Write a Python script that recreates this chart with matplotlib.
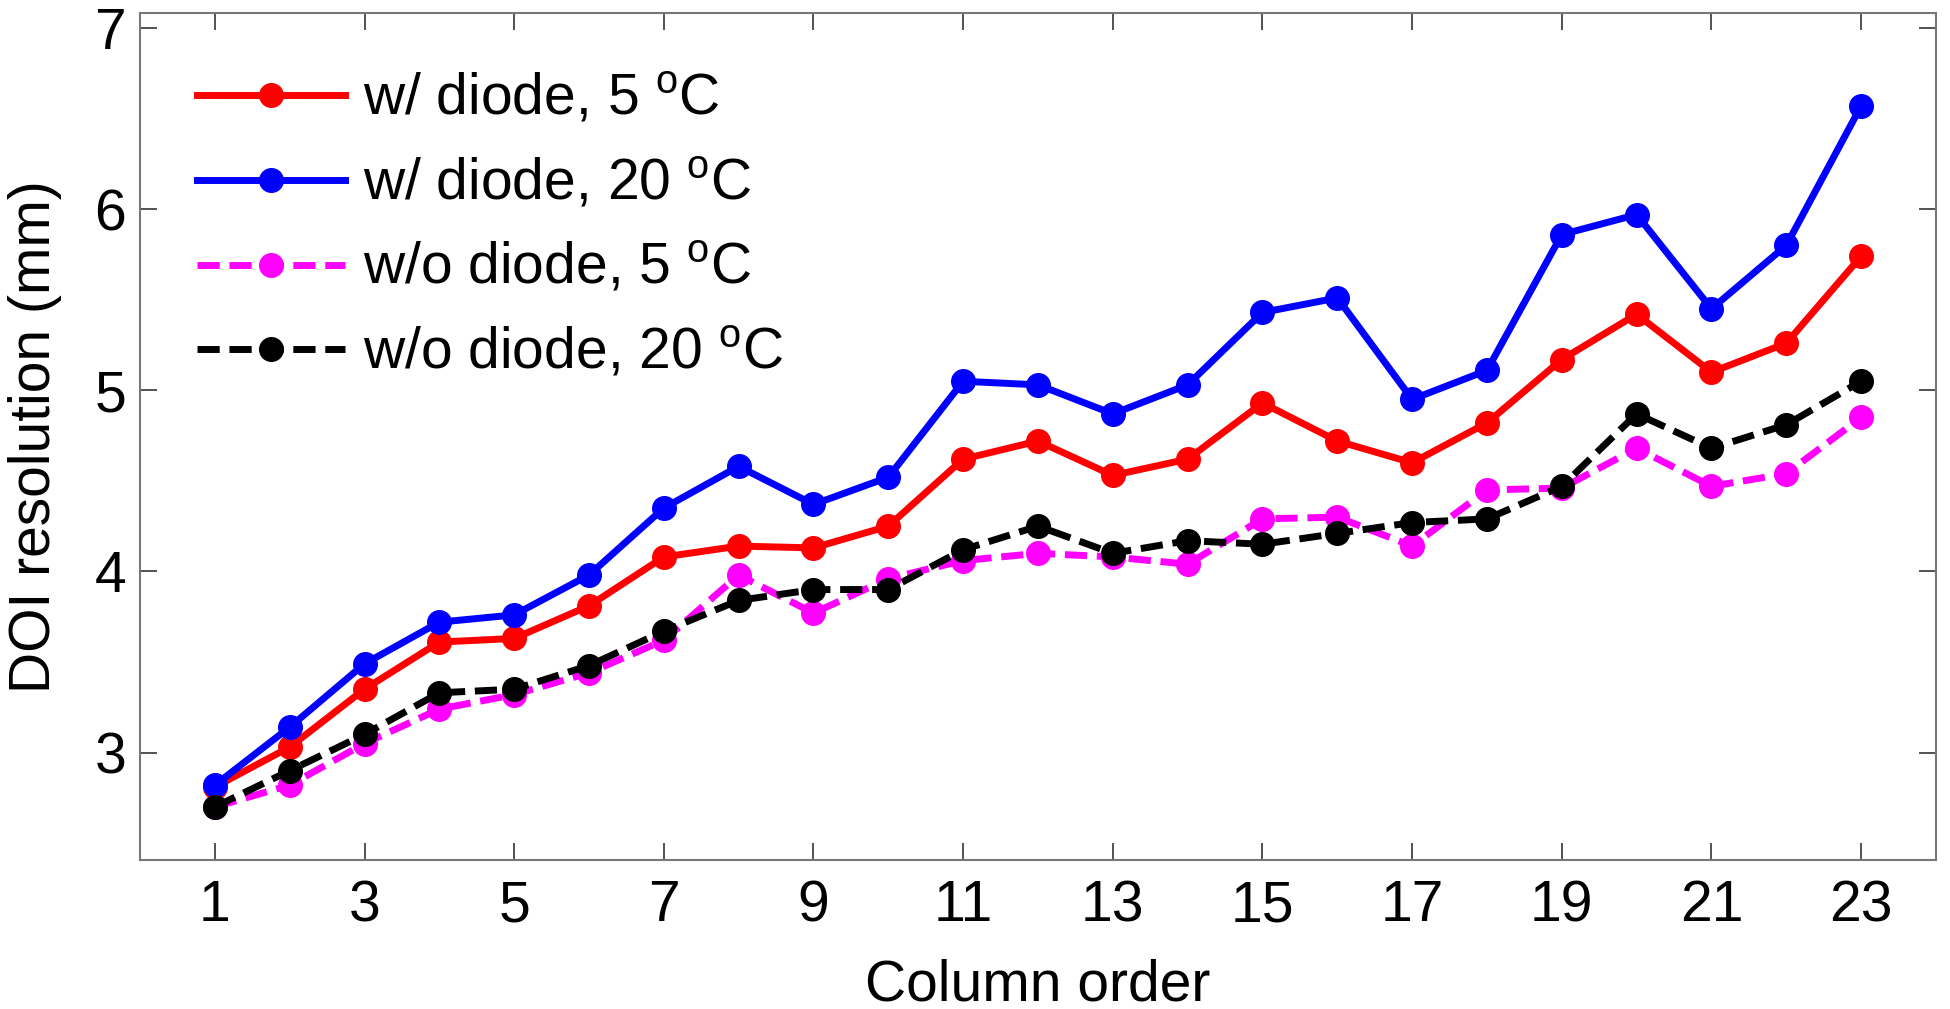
import matplotlib
matplotlib.use("Agg")
import matplotlib.pyplot as plt

plt.rcParams['font.family'] = ['Liberation Sans', 'DejaVu Sans']

columns = list(range(1, 24))
w_diode_5C = [2.81, 3.03, 3.35, 3.61, 3.63, 3.81, 4.08, 4.14, 4.13, 4.25, 4.62, 4.72,
              4.53, 4.62, 4.93, 4.72, 4.60, 4.82, 5.17, 5.42, 5.10, 5.26, 5.74]
w_diode_20C = [2.82, 3.14, 3.49, 3.72, 3.76, 3.98, 4.35, 4.58, 4.37, 4.52, 5.05, 5.03,
               4.87, 5.03, 5.43, 5.51, 4.95, 5.11, 5.86, 5.97, 5.45, 5.80, 6.57]
wo_diode_5C = [2.70, 2.82, 3.05, 3.24, 3.32, 3.44, 3.62, 3.98, 3.77, 3.96, 4.06, 4.10,
               4.08, 4.04, 4.29, 4.30, 4.14, 4.45, 4.46, 4.68, 4.47, 4.54, 4.85]
wo_diode_20C = [2.70, 2.90, 3.10, 3.33, 3.35, 3.48, 3.67, 3.84, 3.90, 3.90, 4.12, 4.25,
                4.10, 4.17, 4.15, 4.21, 4.27, 4.29, 4.47, 4.87, 4.68, 4.81, 5.05]

labels = ['w/ diode, 5 $^\\mathregular{o}$C', 'w/ diode, 20 $^\\mathregular{o}$C',
          'w/o diode, 5 $^\\mathregular{o}$C', 'w/o diode, 20 $^\\mathregular{o}$C']
xticks = list(range(1, 24, 2))
yticks = [3, 4, 5, 6, 7]

fs = 41
fig = plt.figure(figsize=(19.5, 10.09), dpi=100)
ax = fig.add_axes([0.0718, 0.1477, 0.921, 0.8394])

lw = 5.0
ms = 17
ax.plot(columns, w_diode_5C, '-', color='#ff0000', lw=lw, marker='o', ms=ms, label=labels[0])
ax.plot(columns, w_diode_20C, '-', color='#0000ff', lw=lw, marker='o', ms=ms, label=labels[1])
ax.plot(columns, wo_diode_5C, '--', color='#ff00ff', lw=lw, marker='o', ms=ms, label=labels[2],
        dashes=(3.2, 1.4))
ax.plot(columns, wo_diode_20C, '--', color='#000000', lw=lw, marker='o', ms=ms, label=labels[3],
        dashes=(3.2, 1.4))

ax.set_xlim(0, 24)
ax.set_ylim(2.407, 7.083)
ax.set_xticks(xticks)
ax.set_yticks(yticks)
ax.tick_params(direction='in', length=12, width=1.3, color='#444444', labelsize=fs,
               top=True, right=True)
ax.tick_params(axis='x', pad=14)
ax.tick_params(axis='y', pad=10)
for s in ax.spines.values():
    s.set_color('#777777')
    s.set_linewidth(1.5)

ax.set_xlabel('Column order', fontsize=fs, labelpad=18)
ax.set_ylabel('DOI resolution (mm)', fontsize=fs, labelpad=23)

leg = ax.legend(loc='upper left', frameon=False, fontsize=fs, handlelength=2.6,
                labelspacing=0.52, handletextpad=0.32, borderaxespad=0.0, borderpad=0.0,
                bbox_to_anchor=(0.0317, 0.93))

fig.savefig('out.png', dpi=100)
